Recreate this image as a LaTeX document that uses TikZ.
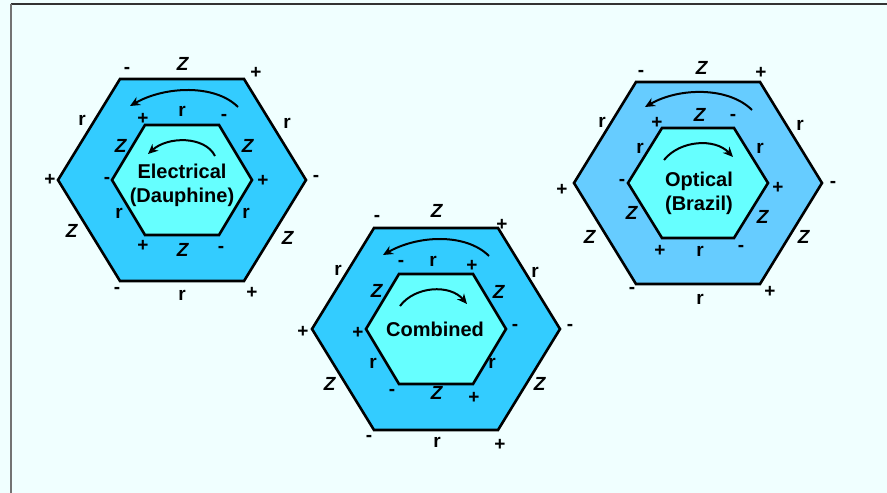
\documentclass[tikz,border=0pt]{standalone}
\usepackage{fontspec}
\setmainfont{Liberation Sans}
\usetikzlibrary{arrows.meta}

\definecolor{fundo}{HTML}{F0FFFF}
\definecolor{azulext}{HTML}{33CCFF}
\definecolor{azulopt}{HTML}{66CCFF}
\definecolor{ciano}{HTML}{66FFFF}
\newcommand{\zi}{\textit{Z}}

\begin{document}
\begin{tikzpicture}[x=1pt, y=-1pt,
    hexout/.style={draw, line width=2.6pt, fill=azulext},
    hexin/.style={draw, line width=2.6pt, fill=ciano},
    rot/.style={inner sep=0pt, font=\fontsize{19}{19}\selectfont\bfseries},
    titulo/.style={align=center, inner sep=0pt, font=\fontsize{20}{24}\selectfont\bfseries},
    seta/.style={-{Stealth[length=10pt,width=9pt]}, line width=2pt}
  ]
    \useasboundingbox (0,0) rectangle (887,493);
    \fill[fundo] (0,0) rectangle (887,493);
    \draw[line width=2pt, black!80] (10.5,3.5) -- (887,3.5);
    \draw[line width=2pt, black!55] (10.5,3.5) -- (10.5,493);

    % hexagonos
    \begin{scope}[shift={(182,180)}]
      \draw[hexout] (-62,-101) -- (62,-101) -- (124,0) -- (62,101) -- (-62,101) -- (-124,0) -- cycle;
      \draw[hexin] (-37,-55) -- (37,-55) -- (70,0) -- (37,55) -- (-37,55) -- (-70,0) -- cycle;
    \end{scope}
    \begin{scope}[shift={(436,329)}]
      \draw[hexout] (-62,-101) -- (62,-101) -- (124,0) -- (62,101) -- (-62,101) -- (-124,0) -- cycle;
      \draw[hexin] (-37,-55) -- (37,-55) -- (70,0) -- (37,55) -- (-37,55) -- (-70,0) -- cycle;
    \end{scope}
    \begin{scope}[shift={(698,183)}]
      \draw[hexout, fill=azulopt] (-62,-101) -- (62,-101) -- (124,0) -- (62,101) -- (-62,101) -- (-124,0) -- cycle;
      \draw[hexin] (-36,-55) -- (36,-55) -- (70,0) -- (36,55) -- (-36,55) -- (-70,0) -- cycle;
    \end{scope}

    % textos centrais
    \node[titulo] (eletrico) at (182,185) {Electrical\\(Dauphine)};
    \node[titulo] (combinado) at (435,329) {Combined};
    \node[titulo] (optico) at (699,193) {Optical\\(Brazil)};

    % rotulos do eletrico
    \foreach \t/\x/\y [count=\i] in {-/127/70, \zi/183/64, +/256/73, r/82/120, r/287/123,
        +/50/180, -/316/178, \zi/72/231, \zi/288/238, -/117/290, r/182/295, +/252/293,
        +/143/119, r/182/111, -/224/117, \zi/121/146, \zi/248/146, -/107/180, +/263/181,
        r/119/213, r/246/213, +/143/246, \zi/183/250, -/221/249}
      \node[rot] (e\i) at (\x,\y) {\t};

    % rotulos do combinado
    \foreach \t/\x/\y [count=\i] in {-/377/218, \zi/437/211, +/502/225, r/338/270, r/535/272,
        +/303/332, -/570/327, \zi/330/384, \zi/540/384, -/369/438, r/437/442, +/500/445,
        -/401/263, r/433/261, +/472/266, \zi/377/291, \zi/499/292, +/358/333, -/515/327,
        r/373/363, r/492/363, -/392/392, \zi/437/393, +/474/398}
      \node[rot] (c\i) at (\x,\y) {\t};

    % rotulos do optico
    \foreach \t/\x/\y [count=\i] in {-/641/73, \zi/702/68, +/761/73, r/602/122, r/800/125,
        +/562/190, -/833/184, \zi/590/237, \zi/804/237, -/632/290, r/700/299, +/770/292,
        +/657/123, \zi/700/115, -/733/117, r/640/148, r/760/148, -/622/182, +/778/188,
        \zi/632/213, \zi/763/217, +/660/251, r/700/251, -/741/248}
      \node[rot] (o\i) at (\x,\y) {\t};

    % setas de rotacao
    \coordinate (e-ext-a) at (238,107);
    \coordinate (e-ext-b) at (130,106);
    \coordinate (e-int-a) at (215,156);
    \coordinate (e-int-b) at (148,154);
    \coordinate (c-ext-a) at (489,256);
    \coordinate (c-ext-b) at (383,255);
    \coordinate (c-int-a) at (400,306);
    \coordinate (c-int-b) at (467,304);
    \coordinate (o-ext-a) at (752,110);
    \coordinate (o-ext-b) at (645,107);
    \coordinate (o-int-a) at (664,160);
    \coordinate (o-int-b) at (733,157);

    \draw[seta] (e-ext-a) .. controls (215,84) and (165,86) .. (e-ext-b);
    \draw[seta] (e-int-a) .. controls (205,136) and (168,136) .. (e-int-b);
    \draw[seta] (c-ext-a) .. controls (466,233) and (418,235) .. (c-ext-b);
    \draw[seta] (c-int-a) .. controls (415,286) and (450,284) .. (c-int-b);
    \draw[seta] (o-ext-a) .. controls (729,87) and (680,87) .. (o-ext-b);
    \draw[seta] (o-int-a) .. controls (680,140) and (715,138) .. (o-int-b);
\end{tikzpicture}
\end{document}
